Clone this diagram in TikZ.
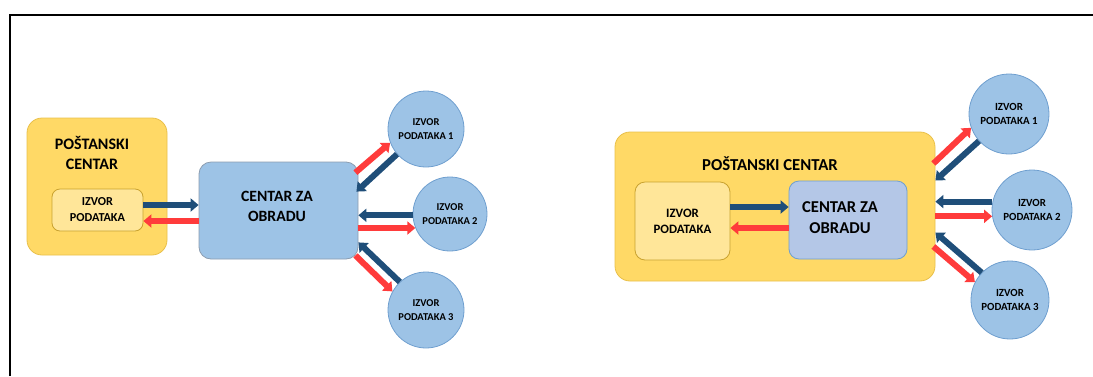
\documentclass[tikz,border=0pt]{standalone}
\usepackage{fontspec}
\setmainfont{Carlito}
\usetikzlibrary{arrows.meta}

\definecolor{postyellow}{HTML}{FFD966}
\definecolor{postedge}{HTML}{E9C04A}
\definecolor{srcyellow}{HTML}{FFE699}
\definecolor{srcedge}{HTML}{C9A22F}
\definecolor{procblue}{HTML}{9DC3E6}
\definecolor{procedge}{HTML}{8C9DB0}
\definecolor{proclight}{HTML}{B4C7E7}
\definecolor{circedge}{HTML}{6F9FCF}
\definecolor{arrowblue}{HTML}{1F4E79}
\definecolor{arrowred}{HTML}{FF3B3B}

\begin{document}
\begin{tikzpicture}[x=1pt, y=-1pt,
    postbox/.style={draw=postedge, fill=postyellow, line width=0.8pt, rounded corners=15pt, inner sep=0pt},
    srcbox/.style={draw=srcedge, fill=srcyellow, line width=0.8pt, inner sep=0pt, align=center},
    procbox/.style={draw=procedge, fill=procblue, line width=0.8pt, rounded corners=12pt, inner sep=0pt},
    source/.style={circle, draw=circedge, fill=procblue, line width=0.8pt, inner sep=0pt, align=center,
        font=\bfseries\fontsize{10.5}{14}\selectfont},
    bluearrow/.style={draw=arrowblue, line width=6pt, -{Triangle[width=13pt,length=8pt]}},
    redarrow/.style={draw=arrowred, line width=6pt, -{Triangle[width=13pt,length=8pt]}}]
    \useasboundingbox (0,0) rectangle (1093,376);
    \draw[line width=2.5pt] (10,376) -- (10,15) -- (1093,15);

    % left: the source sits inside the post office
    \node[postbox, minimum width=140pt, minimum height=137pt] (pc1) at (97,186.5) {};
    \node[font=\bfseries\fontsize{16}{20}\selectfont, align=center] (pc1t) at (92,153) {POŠTANSKI\\CENTAR};
    \node[srcbox, rounded corners=8pt, minimum width=91pt, minimum height=42pt,
        font=\bfseries\fontsize{12.2}{16}\selectfont] (src1) at (97.5,210) {IZVOR\\PODATAKA};
    \node[procbox, minimum width=159pt, minimum height=97pt] (cz1) at (278.5,210.5) {};
    \node[font=\bfseries\fontsize{15.7}{20}\selectfont, align=center] (cz1t) at (277,206) {CENTAR ZA\\OBRADU};
    \node[source, minimum size=76pt] (c1a) at (426,129) {IZVOR\\PODATAKA 1};
    \node[source, minimum size=74pt] (c2a) at (450,214) {IZVOR\\PODATAKA 2};
    \node[source, minimum size=76pt] (c3a) at (426,310) {IZVOR\\PODATAKA 3};

    \coordinate (l1) at ([yshift=5pt]src1.east);
    \coordinate (l2) at ([yshift=-11pt]src1.east);
    \draw[bluearrow] (l1) -- (l1 -| cz1.west);
    \draw[redarrow] (l2 -| cz1.west) -- (l2);
    \draw[redarrow] ([shift={(-3,11)}]cz1.north east) -- (c1a.201);
    \draw[bluearrow] (c1a.221) -- ([shift={(-2,30)}]cz1.north east);
    \draw[bluearrow] (c2a.182) -- (c2a.182 -| cz1.east);
    \draw[redarrow] (c2a.202 -| cz1.east) -- (c2a.202);
    \draw[bluearrow] (c3a.133) -- ([shift={(0,-17)}]cz1.south east);
    \draw[redarrow] ([shift={(-3,-4)}]cz1.south east) -- (c3a.151);

    % right: source and processing both inside the post office
    \node[postbox, minimum width=320pt, minimum height=149pt] (pc2) at (775,206.5) {};
    \node[font=\bfseries\fontsize{16.7}{20}\selectfont] (pc2t) at (770,164) {POŠTANSKI CENTAR};
    \node[srcbox, rounded corners=10pt, minimum width=95pt, minimum height=78pt,
        font=\bfseries\fontsize{12.8}{16.3}\selectfont] (src2) at (682.5,221) {IZVOR\\PODATAKA};
    \node[procbox, draw=circedge, fill=proclight, rounded corners=10pt, minimum width=118pt, minimum height=78pt] (cz2) at (848,220) {};
    \node[font=\bfseries\fontsize{16.6}{21}\selectfont, align=center] (cz2t) at (840,217.5) {CENTAR ZA\\OBRADU};
    \node[source, font=\bfseries\fontsize{10.9}{14}\selectfont, minimum size=80pt] (c1b) at (1009,114) {IZVOR\\PODATAKA 1};
    \node[source, font=\bfseries\fontsize{10.9}{14}\selectfont, minimum size=80pt] (c2b) at (1032,210) {IZVOR\\PODATAKA 2};
    \node[source, font=\bfseries\fontsize{10.9}{14}\selectfont, minimum size=78pt] (c3b) at (1010,300) {IZVOR\\PODATAKA 3};

    \coordinate (r1) at ([yshift=14pt]src2.east);
    \coordinate (r2) at ([yshift=-7pt]src2.east);
    \draw[bluearrow] (r1) -- (r1 -| cz2.west);
    \draw[redarrow] (r2 -| cz2.west) -- (r2);
    \draw[redarrow] ([shift={(-2,-43)}]pc2.east) -- (c1b.200);
    \draw[bluearrow] (c1b.222) -- ([shift={(0,-26)}]pc2.east);
    \draw[bluearrow] (c2b.168) -- (c2b.168 -| pc2.east);
    \draw[redarrow] (c2b.189 -| pc2.east) -- (c2b.189);
    \draw[bluearrow] (c3b.136) -- ([shift={(0,26)}]pc2.east);
    \draw[redarrow] ([shift={(-2,40)}]pc2.east) -- (c3b.153);
\end{tikzpicture}
\end{document}
